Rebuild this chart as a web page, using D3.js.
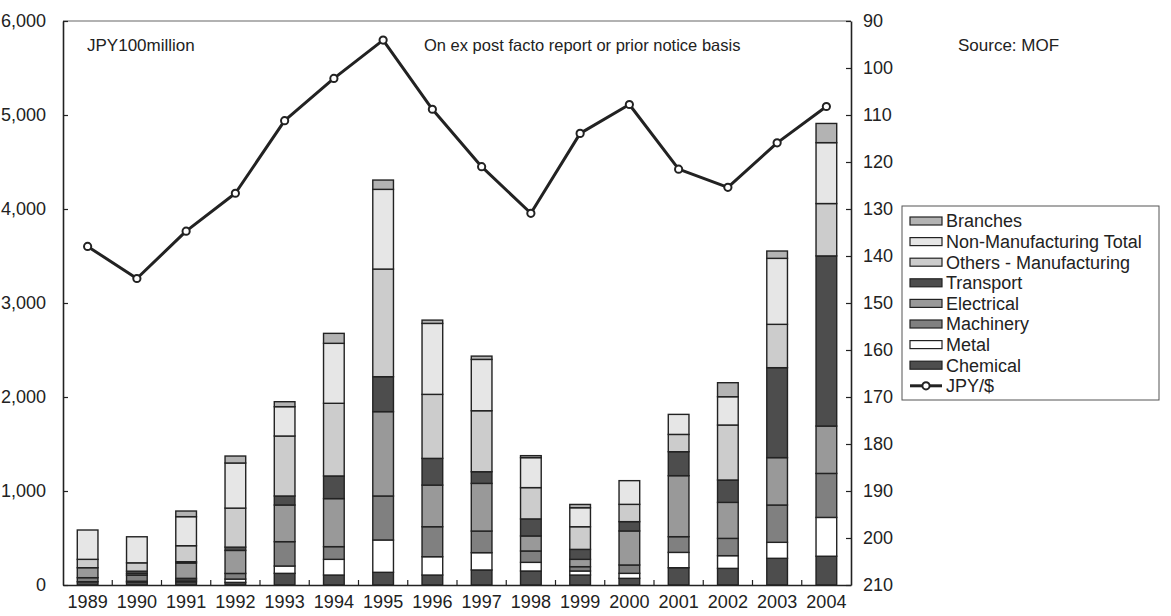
<!DOCTYPE html>
<html><head><meta charset="utf-8">
<script src="https://cdn.jsdelivr.net/npm/d3@7/dist/d3.min.js"></script>
<style>
html,body{margin:0;padding:0;background:#fff;}
text{font-family:"Liberation Sans",Arial,sans-serif;fill:#222;}
</style></head>
<body><svg id="c" width="1171" height="616"></svg>
<script>
const years = ["1989","1990","1991","1992","1993","1994","1995","1996","1997","1998","1999","2000","2001","2002","2003","2004"];
const chemical   = [35,30,35,28,124,106,135,106,160,149,106,71,184,177,284,306];
const metal      = [0,10,18,35,78,167,344,195,184,92,43,53,163,135,170,413];
const machinery  = [43,64,18,60,259,135,468,319,230,121,46,89,167,184,397,468];
const electrical = [106,18,163,245,390,511,897,443,507,160,78,362,649,383,504,504];
const transport  = [0,25,14,35,96,241,372,284,124,181,106,99,255,238,957,1810];
const othersMfg  = [89,89,170,415,638,773,1145,681,649,333,241,184,184,585,461,557];
const nonMfg     = [312,277,309,480,312,638,848,755,546,319,202,252,213,301,702,648];
const branches   = [0,0,60,74,53,106,99,35,35,21,35,0,0,149,78,204];
const jpyUsd     = [137.96,144.79,134.71,126.65,111.20,102.21,94.06,108.78,120.99,130.91,113.91,107.77,121.53,125.39,115.93,108.19];
const seriesNames = ["Chemical","Metal","Machinery","Electrical","Transport","Others - Manufacturing","Non-Manufacturing Total","Branches"];
const leftTicks = [0,1000,2000,3000,4000,5000,6000];
const rightTicks = [90,100,110,120,130,140,150,160,170,180,190,200,210];
const lineName = "JPY/$";
const unitNote = "JPY100million";
const basisNote = "On ex post facto report or prior notice basis";
const sourceNote = "Source: MOF";

const seriesVals = [chemical,metal,machinery,electrical,transport,othersMfg,nonMfg,branches];
const fills = ["#4d4d4d","#ffffff","#808080","#999999","#4d4d4d","#cccccc","#e6e6e6","#b3b3b3"];

const L=63, R=851, T=21, B=585;
const FONT = "Liberation Sans, Arial, sans-serif";
const svg = d3.select("#c");
const x = d3.scaleBand().domain(years).range([L,R]).paddingInner(0.58).paddingOuter(0.29);
const y = d3.scaleLinear().domain([0,6000]).range([B,T]);
const y2 = d3.scaleLinear().domain([90,210]).range([T,B]);

const rows = years.map((yr,i)=>{const o={year:yr}; seriesNames.forEach((n,k)=>o[n]=seriesVals[k][i]); return o;});
const stacked = d3.stack().keys(seriesNames)(rows);

// frame top
svg.append("line").attr("x1",L).attr("x2",R).attr("y1",T).attr("y2",T).attr("stroke","#666").attr("stroke-width",1.2);

// bars
const g = svg.append("g");
stacked.forEach((s,k)=>{
  g.selectAll(null).data(s).enter().append("rect")
    .attr("x",d=>x(d.data.year))
    .attr("width",x.bandwidth())
    .attr("y",d=>y(d[1]))
    .attr("height",d=>Math.max(0,y(d[0])-y(d[1])))
    .attr("fill",fills[k])
    .attr("stroke","#222").attr("stroke-width",1.4)
    .attr("display",d=>(d[1]-d[0])>0?null:"none");
});

// left axis
const ax = svg.append("g").attr("transform",`translate(${L},0)`)
  .call(d3.axisLeft(y).tickValues(leftTicks).tickFormat(d3.format(",")).tickSizeInner(-5).tickSizeOuter(0).tickPadding(17));
ax.select(".domain").attr("stroke","#222").attr("stroke-width",1.6);
ax.selectAll(".tick line").attr("stroke","#222").attr("stroke-width",1.2);
ax.selectAll("text").style("font-size","18px").attr("fill","#222").style("font-family",FONT);

// right axis
const ar = svg.append("g").attr("transform",`translate(${R},0)`)
  .call(d3.axisRight(y2).tickValues(rightTicks).tickSizeInner(-5).tickSizeOuter(0).tickPadding(12));
ar.select(".domain").attr("stroke","#222").attr("stroke-width",1.6);
ar.selectAll(".tick line").attr("stroke","#222").attr("stroke-width",1.2);
ar.selectAll("text").style("font-size","18px").attr("fill","#222").style("font-family",FONT);

// bottom axis
const ab = svg.append("g").attr("transform",`translate(0,${B})`)
  .call(d3.axisBottom(x).tickSize(0).tickPadding(10));
ab.select(".domain").attr("stroke","#222").attr("stroke-width",1.6);
ab.selectAll("text").style("font-size","18px").attr("fill","#222").style("font-family",FONT);
const step = x.step();
ab.selectAll(null).data(years.slice(1)).enter().append("line")
  .attr("x1",d=>x(d)-step*x.paddingInner()/2).attr("x2",d=>x(d)-step*x.paddingInner()/2)
  .attr("y1",0).attr("y2",-5).attr("stroke","#222").attr("stroke-width",1.2);

// line
const cx = d=>x(d)+x.bandwidth()/2;
svg.append("path").datum(years)
  .attr("d",d3.line().x(cx).y((d,i)=>y2(jpyUsd[i])))
  .attr("fill","none").attr("stroke","#222").attr("stroke-width",3).attr("stroke-linejoin","round");
svg.selectAll(null).data(years).enter().append("circle")
  .attr("cx",cx).attr("cy",(d,i)=>y2(jpyUsd[i])).attr("r",3.6)
  .attr("fill","#fff").attr("stroke","#222").attr("stroke-width",2);

// notes
svg.append("text").attr("x",87).attr("y",51).style("font-size","17px").text(unitNote);
svg.append("text").attr("x",424).attr("y",51).style("font-size","16.5px").text(basisNote);
svg.append("text").attr("x",958).attr("y",51).style("font-size","17px").text(sourceNote);

// legend
const lg = svg.append("g");
lg.append("rect").attr("x",902).attr("y",206).attr("width",257).attr("height",194)
  .attr("fill","#fff").attr("stroke","#555").attr("stroke-width",1);
const legItems = seriesNames.map((n,k)=>({name:n,fill:fills[k]})).reverse();
legItems.forEach((it,i)=>{
  const cy = 221 + i*20.6;
  lg.append("rect").attr("x",910).attr("y",cy-4).attr("width",32).attr("height",8)
    .attr("fill",it.fill).attr("stroke","#222").attr("stroke-width",1.2);
  lg.append("text").attr("x",946).attr("y",cy).attr("dy","0.35em").style("font-size","18px").text(it.name);
});
{
  const cy = 221 + 8*20.6;
  lg.append("line").attr("x1",910).attr("x2",942).attr("y1",cy).attr("y2",cy).attr("stroke","#222").attr("stroke-width",3);
  lg.append("circle").attr("cx",926).attr("cy",cy).attr("r",3.6).attr("fill","#fff").attr("stroke","#222").attr("stroke-width",2);
  lg.append("text").attr("x",946).attr("y",cy).attr("dy","0.35em").style("font-size","18px").text(lineName);
}
</script></body></html>
